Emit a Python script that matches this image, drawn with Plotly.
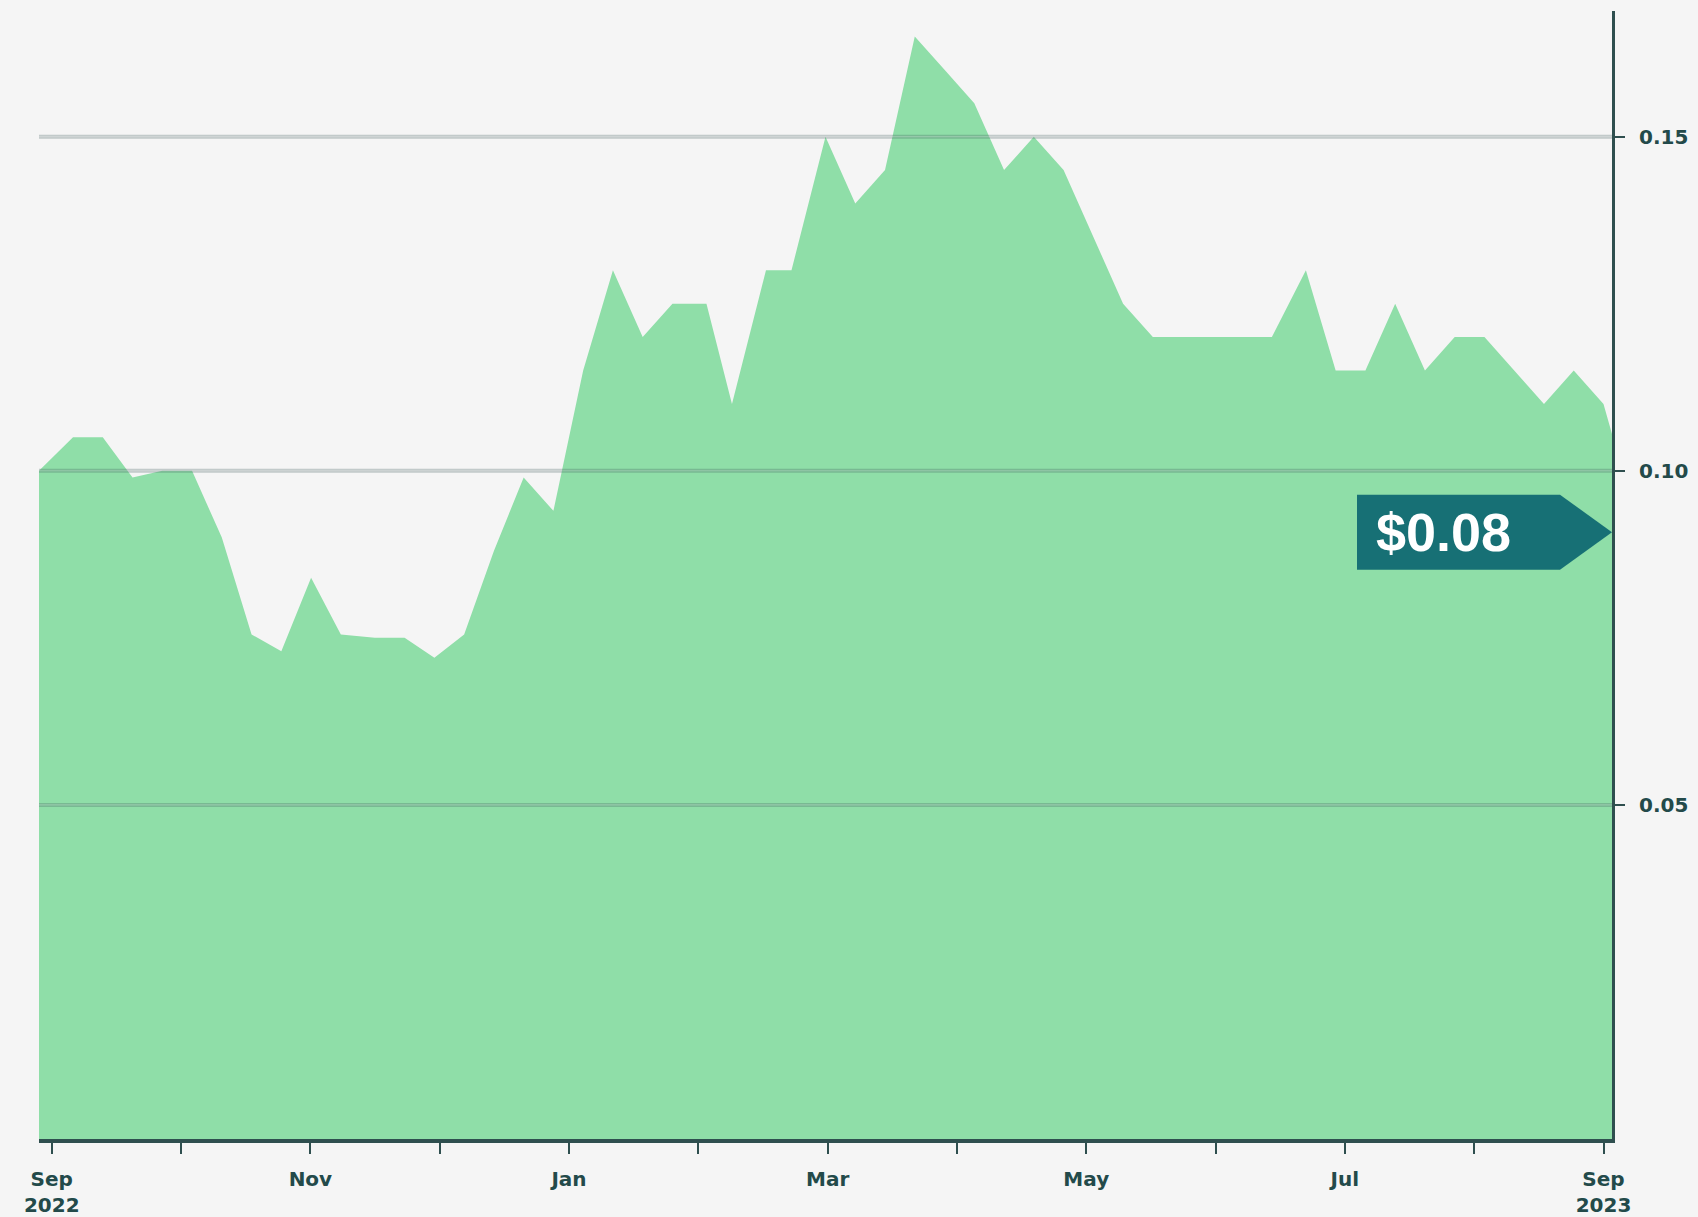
import plotly.graph_objects as go

# ---- data ----
dates = [
    "2022-08-29", "2022-09-06", "2022-09-13", "2022-09-20", "2022-09-27",
    "2022-10-04", "2022-10-11", "2022-10-18", "2022-10-25", "2022-11-01",
    "2022-11-08", "2022-11-16", "2022-11-23", "2022-11-30", "2022-12-07",
    "2022-12-14", "2022-12-21", "2022-12-28", "2023-01-04", "2023-01-11",
    "2023-01-18", "2023-01-25", "2023-02-02", "2023-02-08", "2023-02-16",
    "2023-02-22", "2023-03-02", "2023-03-09", "2023-03-16", "2023-03-23",
    "2023-03-30", "2023-04-06", "2023-04-13", "2023-04-20", "2023-04-27",
    "2023-05-04", "2023-05-11", "2023-05-18", "2023-05-25", "2023-06-01",
    "2023-06-08", "2023-06-15", "2023-06-23", "2023-06-30", "2023-07-07",
    "2023-07-14", "2023-07-21", "2023-07-28", "2023-08-04", "2023-08-11",
    "2023-08-18", "2023-08-25", "2023-09-01", "2023-09-03",
]
prices = [
    0.100, 0.105, 0.105, 0.099, 0.100,
    0.100, 0.090, 0.0755, 0.073, 0.084,
    0.0755, 0.075, 0.075, 0.072, 0.0755,
    0.088, 0.099, 0.094, 0.115, 0.130,
    0.120, 0.125, 0.125, 0.110, 0.130,
    0.130, 0.150, 0.140, 0.145, 0.165,
    0.160, 0.155, 0.145, 0.150, 0.145,
    0.135, 0.125, 0.120, 0.120, 0.120,
    0.120, 0.120, 0.130, 0.115, 0.115,
    0.125, 0.115, 0.120, 0.120, 0.115,
    0.110, 0.115, 0.110, 0.1055,
]

# month ticks are evenly spaced in the reference
month_ticks = [
    "2022-09-01 00:00", "2022-10-01 10:00", "2022-10-31 20:00", "2022-12-01 06:00",
    "2022-12-31 16:00", "2023-01-31 02:00", "2023-03-02 12:00", "2023-04-01 22:00",
    "2023-05-02 08:00", "2023-06-01 18:00", "2023-07-02 04:00", "2023-08-01 14:00",
    "2023-09-01 00:00",
]
month_labels = [
    "Sep<br>2022", "", "Nov", "", "Jan", "", "Mar", "", "May", "", "Jul", "", "Sep<br>2023",
]
y_ticks = [0.05, 0.10, 0.15]
y_range = [0, 0.1688]

label_text = "$0.08"
label_value = 0.0908

# ---- styles ----
BG = "#f5f5f5"
FILL = "rgb(143,222,168)"
AXIS = "#2f4f4f"
LABEL_BG = "rgb(23,112,117)"
TICK_FONT = dict(family="DejaVu Sans, Verdana, sans-serif", size=20, color="#234a4a", weight="bold")

fig = go.Figure()
fig.add_trace(go.Scatter(
    x=dates, y=prices, mode="lines", fill="tozeroy",
    fillcolor=FILL, line=dict(width=0, color=FILL),
    hoverinfo="x+y", showlegend=False,
))

# gridlines drawn above the area (dark band with lighter centre)
for v in y_ticks:
    fig.add_shape(type="line", xref="paper", x0=0, x1=1, yref="y", y0=v, y1=v,
                  line=dict(color="rgba(60,90,90,0.28)", width=4), layer="above")
    fig.add_shape(type="line", xref="paper", x0=0, x1=1, yref="y", y0=v, y1=v,
                  line=dict(color="rgba(255,255,255,0.22)", width=1.2), layer="above")

# price label (arrow box pointing at the right axis)
fig.add_shape(
    type="path", xref="paper", yref="y",
    xsizemode="pixel", ysizemode="pixel", xanchor=1, yanchor=label_value,
    path="M -255,-37.5 L -52,-37.5 L 0,0 L -52,37.5 L -255,37.5 Z",
    fillcolor=LABEL_BG, line=dict(width=0), layer="above",
)
fig.add_annotation(
    x=1, xref="paper", xanchor="left", xshift=-238,
    y=label_value, yref="y", yanchor="middle",
    text=label_text, showarrow=False,
    font=dict(family="Liberation Sans, Arial, sans-serif", size=54, color="white", weight="bold"),
)

fig.update_layout(
    width=1698, height=1217,
    margin=dict(l=39, r=86, t=11, b=78),
    paper_bgcolor=BG, plot_bgcolor=BG,
    showlegend=False,
    xaxis=dict(
        type="date",
        range=[dates[0], dates[-1]],
        tickmode="array", tickvals=month_ticks, ticktext=month_labels,
        ticks="outside", ticklen=11, tickwidth=2, tickcolor=AXIS,
        showline=True, linecolor=AXIS, linewidth=4,
        showgrid=False, zeroline=False,
        tickfont=TICK_FONT,
        ticklabelstandoff=8,
        automargin=False,
    ),
    yaxis=dict(
        side="right",
        range=y_range,
        tickmode="array", tickvals=y_ticks, tickformat=".2f",
        ticks="outside", ticklen=10, tickwidth=2, tickcolor=AXIS,
        showline=True, linecolor=AXIS, linewidth=3,
        showgrid=False, zeroline=False,
        tickfont=TICK_FONT,
        ticklabelstandoff=10,
        automargin=False,
    ),
)

fig.write_html(
    "out.html",
    config={"displayModeBar": False},
    post_script="document.body.style.margin='0';document.body.style.background='#f5f5f5';",
)
